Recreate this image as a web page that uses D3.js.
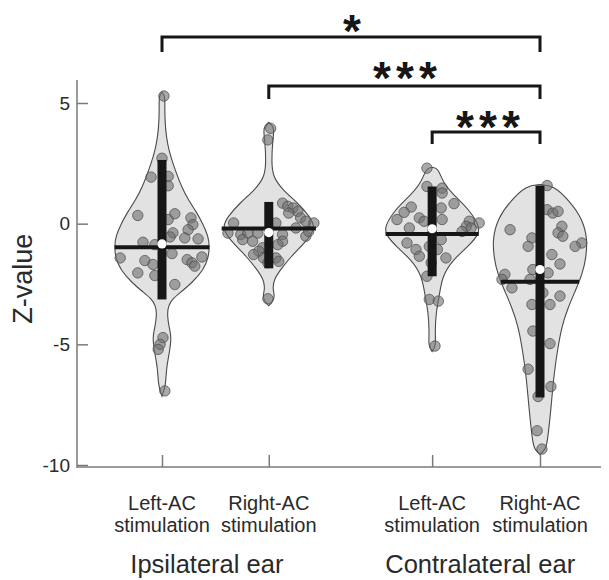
<!DOCTYPE html>
<html><head><meta charset="utf-8">
<script src="https://cdn.jsdelivr.net/npm/d3@7"></script>
<style>body{margin:0;background:#fff}svg{display:block}</style>
</head><body><svg id="c" width="609" height="580"></svg>
<script>
// ---------- data ----------
const categories = [["Left-AC","stimulation"],["Right-AC","stimulation"],["Left-AC","stimulation"],["Right-AC","stimulation"]];
const catPos = [1, 2, 3.53, 4.54];
const groups = ["Ipsilateral ear","Contralateral ear"];
const groupPos = [1.42, 3.98];
const yTicks = [5, 0, -5, -10];

// violin outlines: [value, relative half-width]
const profile1 = [[5.45,0],[5.3,.06],[5.0,.06],[4.3,.06],[3.6,.09],[3.0,.15],[2.5,.23],[2.0,.32],[1.5,.42],[1.0,.55],[0.5,.72],[0.0,.86],[-0.5,.97],[-0.9,1],[-1.4,.98],[-1.9,.88],[-2.45,.63],[-2.8,.42],[-3.1,.23],[-3.4,.13],[-3.8,.11],[-4.3,.15],[-4.7,.2],[-5.3,.16],[-6.0,.09],[-6.7,.08],[-7.15,0]];
const profile2 = [[4.2,0],[4.05,.09],[3.8,.11],[3.4,.08],[2.6,.06],[1.96,.08],[1.4,.29],[0.86,.61],[0.3,.86],[-0.18,1],[-0.8,.76],[-1.35,.47],[-1.9,.25],[-2.3,.11],[-2.7,.08],[-3.0,.13],[-3.25,.08],[-3.4,0]];
const profile3 = [[2.33,0],[2.3,.13],[1.68,.23],[1.13,.48],[0.58,.78],[-0.11,1],[-0.45,.98],[-0.94,.76],[-1.49,.44],[-2.18,.21],[-3.0,.15],[-3.69,.08],[-4.52,.06],[-5.07,.08],[-5.3,0]];
const profile4 = [[1.62,0],[1.58,.29],[0.92,.63],[0.24,.88],[-0.59,1],[-1.42,.97],[-2.1,.89],[-2.8,.74],[-3.48,.59],[-4.24,.46],[-5.2,.37],[-6.31,.29],[-7.69,.23],[-8.79,.17],[-9.34,.13],[-9.57,0]];

// individual Z-values and their horizontal jitter (relative to violin half-width)
const values1 = [5.29,2.71,1.93,1.96,1.57,0.34,0.41,0.17,0.24,-0.04,-0.25,-0.38,-0.55,-0.59,-0.63,-0.77,-0.87,-1.24,-1.42,-1.53,-1.69,-1.49,-1.62,-1.38,-1.76,-2.04,-2.15,-2.52,-4.72,-5.0,-5.21,-6.93];
const jitter1 = [0.04,0,-0.23,0.13,0.13,-0.51,0.27,0.13,0.61,0.65,0.55,0.23,0.17,0.48,0.76,-0.4,-0.15,0.21,-0.88,-0.36,-0.19,0.53,0.63,0.84,0.69,-0.51,-0.15,0.27,0.02,-0.04,-0.08,0.06];
const values2 = [3.95,3.47,0.85,0.72,0.65,0.51,0.44,0.24,0.1,0.03,0.03,0.03,-0.18,-0.39,-0.45,-0.39,-0.39,-0.45,-0.52,-0.32,-0.66,-0.73,-0.73,-1.0,-1.14,-1.28,-0.87,-1.42,-1.42,-1.56,-1.62,-3.11];
const jitter2 = [0.04,-0.02,0.29,0.4,0.51,0.61,0.42,0.67,0.78,0.95,-0.74,0.15,0.57,-0.86,-0.59,-0.44,-0.23,0.29,0.78,0.84,-0.55,-0.34,0.29,-0.13,-0.21,-0.32,0.19,-0.11,0.15,0.21,-0.02,-0.02];
const values3 = [2.3,1.54,1.47,1.27,0.83,0.69,0.47,0.65,0.17,0.24,0.1,-0.18,0.17,0.1,0.03,-0.11,-0.18,-0.32,-0.8,-1.07,-1.35,-0.94,-1.07,-0.66,-1.42,-1.62,-2.18,-3.14,-3.21,-5.07];
const jitter3 = [-0.11,-0.11,0.21,0.21,0.46,-0.44,-0.59,0.19,-0.74,-0.27,-0.17,-0.48,0.21,0.78,0.99,0.72,0.82,0.63,-0.53,-0.34,-0.27,-0.06,0.11,0.19,0.29,-0.02,-0.11,-0.06,0.13,0.06];
const values4 = [1.58,0.58,0.44,0.51,-0.25,-0.11,-0.38,-0.52,-0.59,-0.94,-0.8,-0.94,-1.28,-1.67,-1.9,-2.04,-2.1,-2.31,-2.31,-2.66,-2.86,-3.0,-3.35,-3.35,-4.45,-4.97,-6.03,-6.75,-7.16,-8.58,-9.34];
const jitter4 = [0.15,0.15,0.27,0.38,-0.63,0.46,0.38,0.48,-0.17,-0.25,0.88,0.74,0.25,0.42,-0.15,0.17,-0.74,-0.8,-0.21,-0.59,0.06,0.42,-0.17,0.21,-0.15,0.21,-0.25,0.23,-0.04,-0.06,0.04];

// summary statistics
const means   = [-0.84, -0.37, -0.21, -1.9];
const medians = [-0.98, -0.2, -0.43, -2.41];
const barTop    = [2.64, 0.9, 1.54, 1.58];
const barBottom = [-3.14, -1.85, -2.18, -7.2];

// significance brackets: [from category, to category, label]
const sigFrom = [0, 1, 2];
const sigTo = [3, 3, 3];
const sigLabels = ["*", "***", "***"];

// ---------- drawing ----------
const profiles = [profile1, profile2, profile3, profile4];
const valueSets = [values1, values2, values3, values4];
const jitterSets = [jitter1, jitter2, jitter3, jitter4];

const svg = d3.select("#c");
const FONT = "'Liberation Sans', Arial, sans-serif";
const y = d3.scaleLinear().domain([-10, 5]).range([465, 103]);
const x = d3.scaleLinear().domain([1, 4.54]).range([162, 540]);
const halfW = d3.scaleLinear().domain([0, 1]).range([0, 47.5]);

svg.append("rect").attr("width", 609).attr("height", 580).attr("fill", "#fff");

// axes
const axisColor = "#7a7a7a";
const yAxis = svg.append("g").attr("transform", "translate(77,0)")
  .call(d3.axisLeft(y).tickValues(yTicks).tickSizeInner(-11).tickSizeOuter(0).tickPadding(7).tickFormat(d => String(d)));
yAxis.select(".domain").remove();
yAxis.selectAll("line").attr("stroke", axisColor).attr("stroke-width", 1.5);
yAxis.selectAll("text").attr("font-family", FONT).attr("font-size", 19).attr("fill", "#2a2a2a");
svg.append("line").attr("x1", 77).attr("x2", 77).attr("y1", y(5.95)).attr("y2", 467.5)
  .attr("stroke", axisColor).attr("stroke-width", 1.5);

const xAxis = svg.append("g").attr("transform", "translate(0,467)")
  .call(d3.axisBottom(x).tickValues(catPos).tickSizeInner(-12).tickSizeOuter(0).tickFormat(""));
xAxis.select(".domain").remove();
xAxis.selectAll("line").attr("stroke", axisColor).attr("stroke-width", 1.5);
svg.append("line").attr("x1", 76.25).attr("x2", 601).attr("y1", 467).attr("y2", 467)
  .attr("stroke", axisColor).attr("stroke-width", 1.5);

// category labels
categories.forEach((lines, i) => {
  const t = svg.append("text").attr("text-anchor", "middle").attr("font-family", FONT)
    .attr("font-size", 20).attr("fill", "#2a2a2a");
  lines.forEach((ln, j) => t.append("tspan").attr("x", x(catPos[i])).attr("y", 510 + j * 21.5).text(ln));
});
groups.forEach((g, i) => {
  svg.append("text").attr("x", x(groupPos[i])).attr("y", 573).attr("text-anchor", "middle")
    .attr("font-family", FONT).attr("font-size", 25.5).attr("fill", "#2a2a2a").text(g);
});
svg.append("text").attr("transform", `translate(32,${y(-2.28)}) rotate(-90)`).attr("text-anchor", "middle")
  .attr("font-family", FONT).attr("font-size", 27).attr("fill", "#2a2a2a").text("Z-value");

// violins
const area = d3.area()
  .y(d => y(d[0]))
  .curve(d3.curveBasis);
function widthAt(profile, v) {
  for (let k = 0; k < profile.length - 1; k++) {
    const a = profile[k], b = profile[k + 1];
    if (v <= a[0] && v >= b[0]) return a[1] + (b[1] - a[1]) * (a[0] - v) / (a[0] - b[0]);
  }
  return 0;
}
profiles.forEach((p, i) => {
  const cx = x(catPos[i]);
  svg.append("path").datum(p)
    .attr("d", area.x0(d => cx - halfW(d[1])).x1(d => cx + halfW(d[1])))
    .attr("fill", "#e2e2e2").attr("stroke", "#4a4a4a").attr("stroke-width", 1.1);
});

// points
valueSets.forEach((vals, i) => {
  const cx = x(catPos[i]);
  svg.append("g").selectAll("circle").data(vals).join("circle")
    .attr("cx", (d, k) => cx + halfW(jitterSets[i][k]))
    .attr("cy", d => y(d))
    .attr("r", 5.2)
    .attr("fill", "#6f6f6f").attr("fill-opacity", 0.6)
    .attr("stroke", "#4d4d4d").attr("stroke-opacity", 0.75).attr("stroke-width", 1);
});

// medians, bars, means
catPos.forEach((c, i) => {
  const cx = x(c);
  const w = halfW(widthAt(profiles[i], medians[i]));
  svg.append("line").attr("x1", cx - w).attr("x2", cx + w).attr("y1", y(medians[i])).attr("y2", y(medians[i]))
    .attr("stroke", "#161616").attr("stroke-width", 4);
  svg.append("rect").attr("x", cx - 4.5).attr("width", 9)
    .attr("y", y(barTop[i])).attr("height", y(barBottom[i]) - y(barTop[i])).attr("fill", "#161616");
  svg.append("circle").attr("cx", cx).attr("cy", y(means[i])).attr("r", 4.6).attr("fill", "#fff");
});

// significance brackets
const bracketY = [37, 86, 132];
const bracketDrop = [15, 13, 12];
const starY = [21, 68, 117];
sigLabels.forEach((lab, i) => {
  const x1 = x(catPos[sigFrom[i]]), x2 = x(catPos[sigTo[i]]);
  const by = bracketY[i];
  svg.append("path")
    .attr("d", `M${x1},${by + bracketDrop[i]}V${by}H${x2}V${by + bracketDrop[i]}`)
    .attr("fill", "none").attr("stroke", "#161616").attr("stroke-width", 3);
  const n = lab.length;
  const pitch = 23;
  const mid = i === 0 ? 352 : (i === 1 ? 405 : 488);
  for (let k = 0; k < n; k++) {
    svg.append("text").attr("x", mid + (k - (n - 1) / 2) * pitch).attr("y", starY[i] + 26)
      .attr("text-anchor", "middle").attr("font-family", FONT).attr("font-weight", "bold")
      .attr("font-size", 46).attr("fill", "#161616").text(lab[k]);
  }
});
</script>
</body></html>
